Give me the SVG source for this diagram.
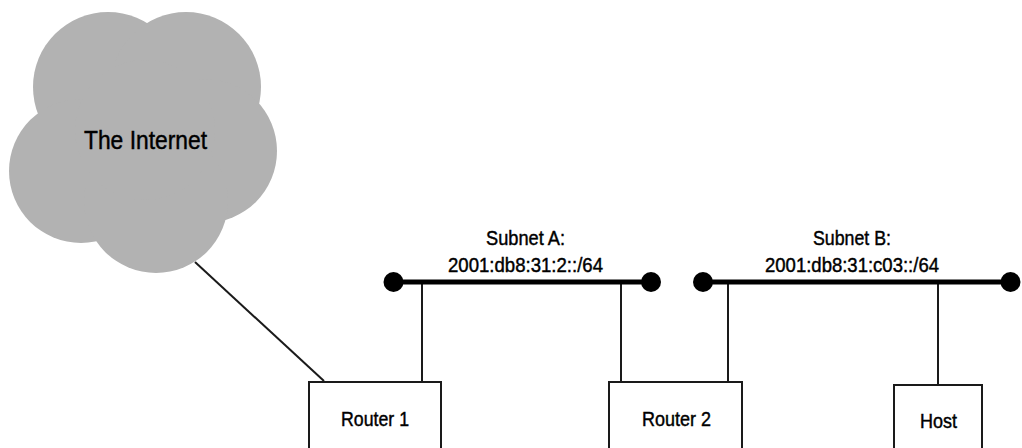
<svg xmlns="http://www.w3.org/2000/svg" width="1022" height="448" viewBox="0 0 1022 448">
<style>
text{font-family:"Liberation Sans",Arial,sans-serif;fill:#000;stroke:#000;stroke-width:0.45px}
.l{font-size:21px}
.box{fill:#fff;stroke:#1a1a1a;stroke-width:2}
.thin{stroke:#1a1a1a;stroke-width:2;fill:none}
.bus{stroke:#000;stroke-width:5;fill:none}
.cloud{fill:#b2b2b2}
</style>
<rect width="1022" height="448" fill="#fff"/>
<g id="connectors">
<path class="thin" d="M195 262L324 381"/>
<path class="thin" d="M422 282V382M621 282V382M728 282V382M938 282V385"/>
<path class="bus" d="M393.500 282H651M703 282H1010.500"/>
<circle cx="393.500" cy="282" r="10"/><circle cx="651" cy="282" r="10"/><circle cx="703" cy="282" r="10"/><circle cx="1010.500" cy="282" r="10"/>
</g>
<g id="internet">
<g class="cloud"><circle cx="108" cy="87" r="75"/><circle cx="186" cy="87" r="75"/><circle cx="81" cy="171" r="72"/><circle cx="205" cy="151" r="72"/><circle cx="156" cy="201" r="72"/><circle cx="145" cy="130" r="70"/></g>
<text x="84" y="149" font-size="26" textLength="123" lengthAdjust="spacingAndGlyphs">The Internet</text>
</g>
<g id="router1"><rect class="box" x="309" y="382" width="132" height="80"/><text class="l" x="341" y="426" textLength="68" lengthAdjust="spacingAndGlyphs">Router 1</text></g>
<g id="router2"><rect class="box" x="609" y="382" width="133" height="80"/><text class="l" x="642" y="426" textLength="69" lengthAdjust="spacingAndGlyphs">Router 2</text></g>
<g id="host"><rect class="box" x="894" y="385" width="88" height="80"/><text class="l" x="920" y="428" textLength="37" lengthAdjust="spacingAndGlyphs">Host</text></g>
<g id="subnetA"><text class="l" x="486" y="245" textLength="79" lengthAdjust="spacingAndGlyphs">Subnet A:</text><text class="l" x="448" y="272" textLength="155" lengthAdjust="spacingAndGlyphs">2001:db8:31:2::/64</text></g>
<g id="subnetB"><text class="l" x="813" y="245" textLength="78" lengthAdjust="spacingAndGlyphs">Subnet B:</text><text class="l" x="765" y="272" textLength="174" lengthAdjust="spacingAndGlyphs">2001:db8:31:c03::/64</text></g>
</svg>
